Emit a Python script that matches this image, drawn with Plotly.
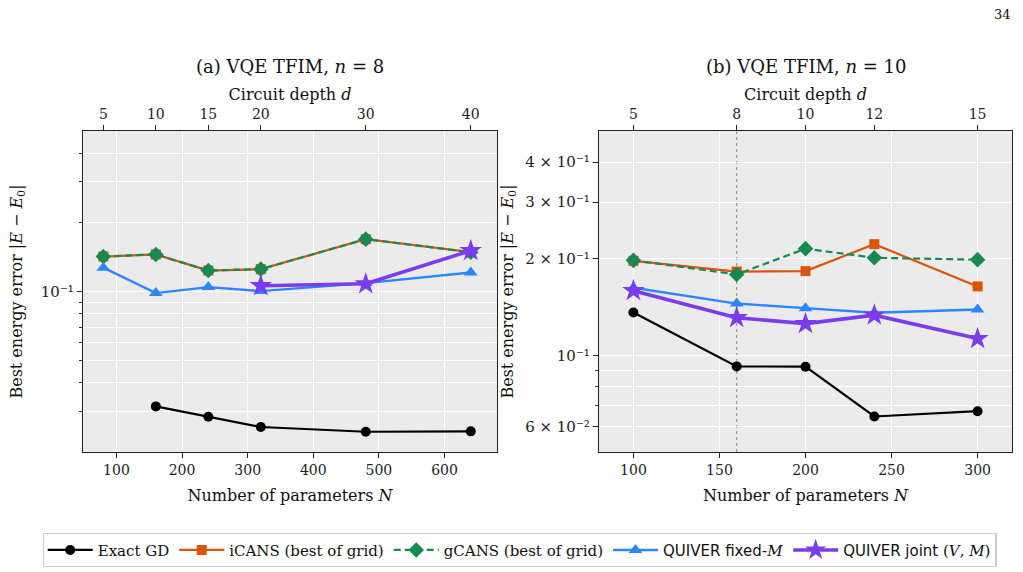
import math
import plotly.graph_objects as go

# ---------------- data ----------------
# Panel (a): VQE TFIM, n = 8
N_a = [80, 160, 240, 320, 480, 640]
depth_a = [5, 10, 15, 20, 30, 40]
exact_N_a = [160, 240, 320, 480, 640]
exact_a = [0.0316, 0.0285, 0.0257, 0.0245, 0.0246]
icans_a = [0.142, 0.145, 0.1234, 0.1251, 0.169, 0.1483]
gcans_a = [0.142, 0.145, 0.1234, 0.1251, 0.169, 0.1483]
qfixed_a = [0.127, 0.0984, 0.1045, 0.1004, 0.1088, 0.121]
joint_N_a = [320, 480, 640]
qjoint_a = [0.1059, 0.108, 0.1507]

# Panel (b): VQE TFIM, n = 10
N_b = [100, 160, 200, 240, 300]
depth_b = [5, 8, 10, 12, 15]
exact_b = [0.136, 0.0924, 0.0922, 0.0645, 0.067]
icans_b = [0.197, 0.1824, 0.183, 0.222, 0.164]
gcans_b = [0.1977, 0.1787, 0.215, 0.2014, 0.1987]
qfixed_b = [0.1624, 0.145, 0.1403, 0.1357, 0.139]
qjoint_b = [0.159, 0.131, 0.1256, 0.1334, 0.1128]
ref_N_b = 160

xticks_a = [100, 200, 300, 400, 500, 600]
xticks_b = [100, 150, 200, 250, 300]
ymajor_a = [0.1]
ymajor_a_text = ["10⁻¹"]
yminor_a = [0.03, 0.04, 0.05, 0.06, 0.07, 0.08, 0.09, 0.2, 0.3, 0.4]
ymajor_b = [0.06, 0.1, 0.2, 0.3, 0.4]
ymajor_b_text = ["6 × 10⁻²", "10⁻¹", "2 × 10⁻¹", "3 × 10⁻¹", "4 × 10⁻¹"]
yminor_b = [0.07, 0.08, 0.09]

names = ["Exact GD", "iCANS (best of grid)", "gCANS (best of grid)",
         "<span style='font-family:DejaVu Sans'>QUIVER fixed-</span><i>M</i>",
         "<span style='font-family:DejaVu Sans'>QUIVER joint </span>(<i>V</i>, <i>M</i>)"]

# ---------------- style ----------------
SERIF = "DejaVu Serif"
C_BLACK = "#000000"
C_ORANGE = "#d95507"
C_GREEN = "#178a4f"
C_BLUE = "#2b86ff"
C_PURPLE = "#7b3cee"
BG = "#ebebeb"

W, H = 1023, 572
def px_x(p): return p / W
def px_y(p): return 1 - p / H

dom_a = [px_x(83), px_x(497)]
dom_b = [px_x(599), px_x(1012)]
dom_y = [px_y(452), px_y(131)]

fig = go.Figure()

def add_panel(xa, ya, xs_all, exact_x, exact_y, ic, gc, qf, jx, jy, show):
    fig.add_trace(go.Scatter(x=exact_x, y=exact_y, xaxis=xa, yaxis=ya, name=names[0],
                             mode="lines+markers", line=dict(color=C_BLACK, width=2.2),
                             marker=dict(symbol="circle", size=10, color=C_BLACK),
                             showlegend=show, legendgroup="g0"))
    fig.add_trace(go.Scatter(x=xs_all, y=ic, xaxis=xa, yaxis=ya, name=names[1],
                             mode="lines+markers", line=dict(color=C_ORANGE, width=2.2),
                             marker=dict(symbol="square", size=10, color=C_ORANGE),
                             showlegend=show, legendgroup="g1"))
    fig.add_trace(go.Scatter(x=xs_all, y=gc, xaxis=xa, yaxis=ya, name=names[2],
                             mode="lines+markers", line=dict(color=C_GREEN, width=2.2, dash="7px,4px"),
                             marker=dict(symbol="diamond", size=12, color=C_GREEN),
                             showlegend=show, legendgroup="g2"))
    fig.add_trace(go.Scatter(x=xs_all, y=qf, xaxis=xa, yaxis=ya, name=names[3],
                             mode="lines+markers", line=dict(color=C_BLUE, width=2.4),
                             marker=dict(symbol="triangle-up", size=12, color=C_BLUE),
                             showlegend=show, legendgroup="g3"))
    fig.add_trace(go.Scatter(x=jx, y=jy, xaxis=xa, yaxis=ya, name=names[4],
                             mode="lines+markers", line=dict(color=C_PURPLE, width=3.6),
                             marker=dict(symbol="star", size=17, color=C_PURPLE),
                             showlegend=show, legendgroup="g4"))

add_panel("x", "y", N_a, exact_N_a, exact_a, icans_a, gcans_a, qfixed_a, joint_N_a, qjoint_a, True)
add_panel("x2", "y2", N_b, N_b, exact_b, icans_b, gcans_b, qfixed_b, N_b, qjoint_b, False)

# invisible traces so the top axes render
fig.add_trace(go.Scatter(x=N_a, y=icans_a, xaxis="x3", yaxis="y", mode="markers",
                         marker=dict(opacity=0), showlegend=False, hoverinfo="skip"))
fig.add_trace(go.Scatter(x=N_b, y=icans_b, xaxis="x4", yaxis="y2", mode="markers",
                         marker=dict(opacity=0), showlegend=False, hoverinfo="skip"))

tickfont = dict(family=SERIF, size=14, color="#222")
ytickfont = dict(family=SERIF, size=15, color="#222")
titlefont = dict(family=SERIF, size=16, color="#111")

def xaxis_bottom(dom, rng, ticks, anchor):
    return dict(domain=dom, range=rng, anchor=anchor, tickvals=ticks, ticks="outside",
                ticklen=5, tickwidth=1.2, tickcolor="#222", showline=True, linecolor="#222",
                linewidth=1.3, mirror=False, showgrid=True, gridcolor="white", gridwidth=1.3,
                zeroline=False, tickfont=tickfont,
                title=dict(text="Number of parameters <i>N</i>", font=titlefont, standoff=12))

def xaxis_top(rng, tickv, tickt, overlay, anchor):
    return dict(overlaying=overlay, side="top", anchor=anchor, range=rng, tickvals=tickv,
                ticktext=[str(t) for t in tickt], ticks="outside", ticklen=5, tickwidth=1.2,
                tickcolor="#222", showline=True, linecolor="#222", linewidth=1.3,
                showgrid=False, zeroline=False, tickfont=tickfont,
                title=dict(text="Circuit depth <i>d</i>", font=titlefont, standoff=1))

def yaxis(dom, rng, major, major_text, minor, anchor, standoff):
    return dict(domain=dom, type="log", range=[math.log10(rng[0]), math.log10(rng[1])],
                anchor=anchor, tickvals=major, ticktext=major_text, ticks="outside",
                ticklen=5, tickwidth=1.2, tickcolor="#222", showline=True, linecolor="#222",
                linewidth=1.3, mirror=True, showgrid=True, gridcolor="white", gridwidth=1.3,
                zeroline=False, tickfont=ytickfont,
                minor=dict(tickvals=minor, ticks="outside", ticklen=3, tickwidth=1,
                           tickcolor="#333", showgrid=True, gridcolor="white", gridwidth=1.1),
                title=dict(text="Best energy error |<i>E</i> − <i>E</i><sub>0</sub>|",
                           font=titlefont, standoff=standoff))

range_xa = [49, 680]
range_xb = [80, 320]

fig.update_layout(
    width=W, height=H,
    margin=dict(l=0, r=0, t=0, b=0),
    paper_bgcolor="white", plot_bgcolor=BG,
    font=dict(family=SERIF, color="#111"),
    xaxis=xaxis_bottom(dom_a, range_xa, xticks_a, "y"),
    xaxis2=xaxis_bottom(dom_b, range_xb, xticks_b, "y2"),
    xaxis3=xaxis_top(range_xa, N_a, depth_a, "x", "y"),
    xaxis4=xaxis_top(range_xb, N_b, depth_b, "x2", "y2"),
    yaxis=yaxis(dom_y, [0.02, 0.5], ymajor_a, ymajor_a_text, yminor_a, "x", 14),
    yaxis2=yaxis(dom_y, [0.05, 0.5], ymajor_b, ymajor_b_text, yminor_b, "x2", 7),
    legend=dict(orientation="h", x=0.508, xanchor="center", y=px_y(550), yanchor="middle",
                bgcolor="white", bordercolor="#cccccc", borderwidth=1.2,
                font=dict(family=SERIF, size=15, color="#111"), itemwidth=45),
    showlegend=True,
)

fig.add_shape(type="line", xref="x2", yref="y2 domain", x0=ref_N_b, x1=ref_N_b, y0=0, y1=1,
              line=dict(color="#999999", width=1.2, dash="dot"), layer="below")

fig.add_annotation(text="(a) VQE TFIM, <i>n</i> = 8", xref="paper", yref="paper",
                   x=(dom_a[0] + dom_a[1]) / 2, y=px_y(67), showarrow=False,
                   xanchor="center", yanchor="middle",
                   font=dict(family=SERIF, size=18, color="#111"))
fig.add_annotation(text="(b) VQE TFIM, <i>n</i> = 10", xref="paper", yref="paper",
                   x=(dom_b[0] + dom_b[1]) / 2, y=px_y(67), showarrow=False,
                   xanchor="center", yanchor="middle",
                   font=dict(family=SERIF, size=18, color="#111"))
fig.add_annotation(text="34", xref="paper", yref="paper", x=px_x(1013), y=px_y(14),
                   xanchor="right", yanchor="middle", showarrow=False,
                   font=dict(family=SERIF, size=13, color="#111"))

fig.write_html("out.html")
